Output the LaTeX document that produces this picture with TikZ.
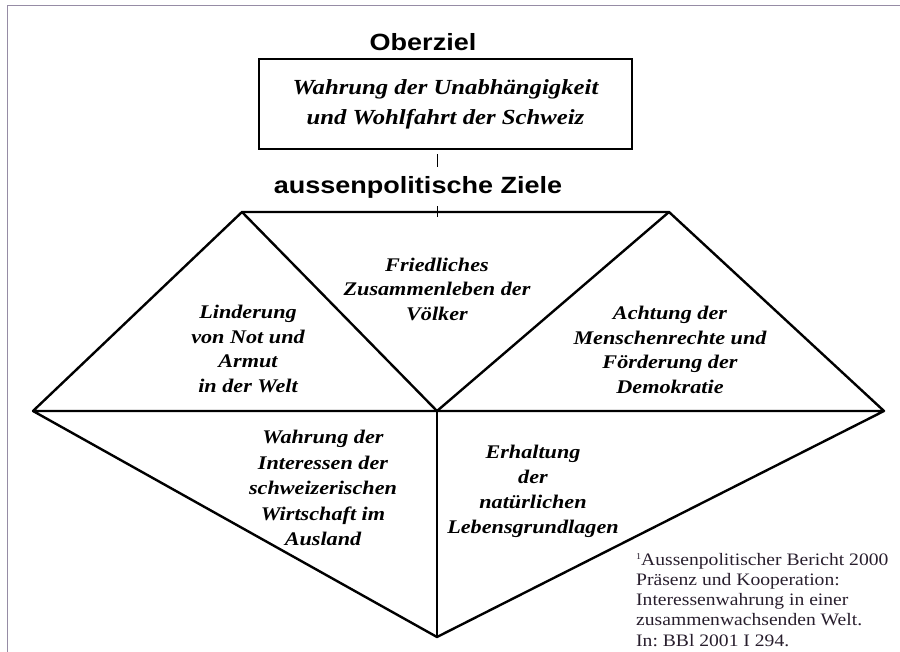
\documentclass[tikz,border=0pt]{standalone}
\usepackage{fontspec}
\setmainfont{Liberation Serif}
\newfontfamily\headfont[FakeStretch=1.15]{Liberation Sans}
\newfontfamily\goalfont[FakeStretch=1.15]{Liberation Serif}
\newfontfamily\notefont[FakeStretch=1.12]{Liberation Serif}
\definecolor{frameGrey}{RGB}{150, 140, 165}
\definecolor{noteInk}{RGB}{40, 30, 45}
\usetikzlibrary{positioning}
\frenchspacing

\begin{document}
\begin{tikzpicture}[x=1pt, y=-1pt,
    edge/.style={line width=2.4pt, line join=round, line cap=round},
    tick/.style={line width=0.9pt},
    head/.style={inner sep=0pt, font=\headfont\bfseries\fontsize{23.5}{28}\selectfont},
    goal/.style={inner sep=0pt, align=center, font=\goalfont\bfseries\itshape\fontsize{19.3}{24.5}\selectfont},
    topbox/.style={draw, line width=2.4pt, minimum width=373pt, minimum height=90pt, inner sep=0pt, align=center,
      font=\goalfont\bfseries\itshape\fontsize{21.5}{30}\selectfont}
  ]
  \useasboundingbox (0,0) rectangle (900,652);
  \draw[frameGrey, line width=1pt] (7,652) -- (7,6) -- (900,6);

  % Oberziel
  \node[head] (ober) at (423,42) {Oberziel};
  \node[topbox] (box) at (445.5,104) {Wahrung der Unabh\"angigkeit\\und Wohlfahrt der Schweiz};
  \node[head] (ziele) at (418,187) {aussenpolitische Ziele};

  % Eckpunkte
  \coordinate (lapex) at (242,212);
  \coordinate (rapex) at (669,212);
  \coordinate (mid) at (437,411);
  \coordinate (lcorner) at (33,411);
  \coordinate (rcorner) at (884,411);
  \coordinate (bottom) at (437,637);
  \coordinate (ctr) at (437,0);
  \coordinate (topmid) at (437,217);

  \draw[tick] ([yshift=-4pt]box.south -| ctr) -- (437,167);
  \draw[tick] ([yshift=-8pt]ziele.south -| ctr) -- (topmid);

  \draw[edge] (lcorner) -- (lapex) -- (rapex) -- (rcorner) -- (lcorner) -- (bottom) -- (rcorner);
  \draw[edge] (lapex) -- (mid) -- (rapex);
  \draw[edge] (mid) -- (bottom);

  % Ziele
  \node[goal] (armut) at (248,349) {Linderung\\von Not und\\Armut\\in der Welt};
  \node[goal] (frieden) at (437,289) {Friedliches\\Zusammenleben der\\V\"olker};
  \node[goal] (rechte) at (670,350) {Achtung der\\Menschenrechte und\\F\"orderung der\\Demokratie};
  \node[goal, font=\goalfont\bfseries\itshape\fontsize{19.3}{25.5}\selectfont] (wirtschaft) at (323,488) {Wahrung der\\Interessen der\\schweizerischen\\Wirtschaft im\\Ausland};
  \node[goal, font=\goalfont\bfseries\itshape\fontsize{19.3}{25}\selectfont] (umwelt) at (533,491) {Erhaltung\\der\\nat\"urlichen\\Lebensgrundlagen};

  % Quelle
  \node[inner sep=0pt, anchor=north west, align=left, text=noteInk,
    font=\notefont\fontsize{17.5}{20.2}\selectfont] (quelle) at (636,553)
    {\raisebox{6pt}{\fontsize{9}{9}\selectfont 1}Aussenpolitischer Bericht 2000\\Pr\"asenz und Kooperation:\\Interessenwahrung in einer\\zusammenwachsenden Welt.\\In: BBl 2001 I 294.};
\end{tikzpicture}
\end{document}
